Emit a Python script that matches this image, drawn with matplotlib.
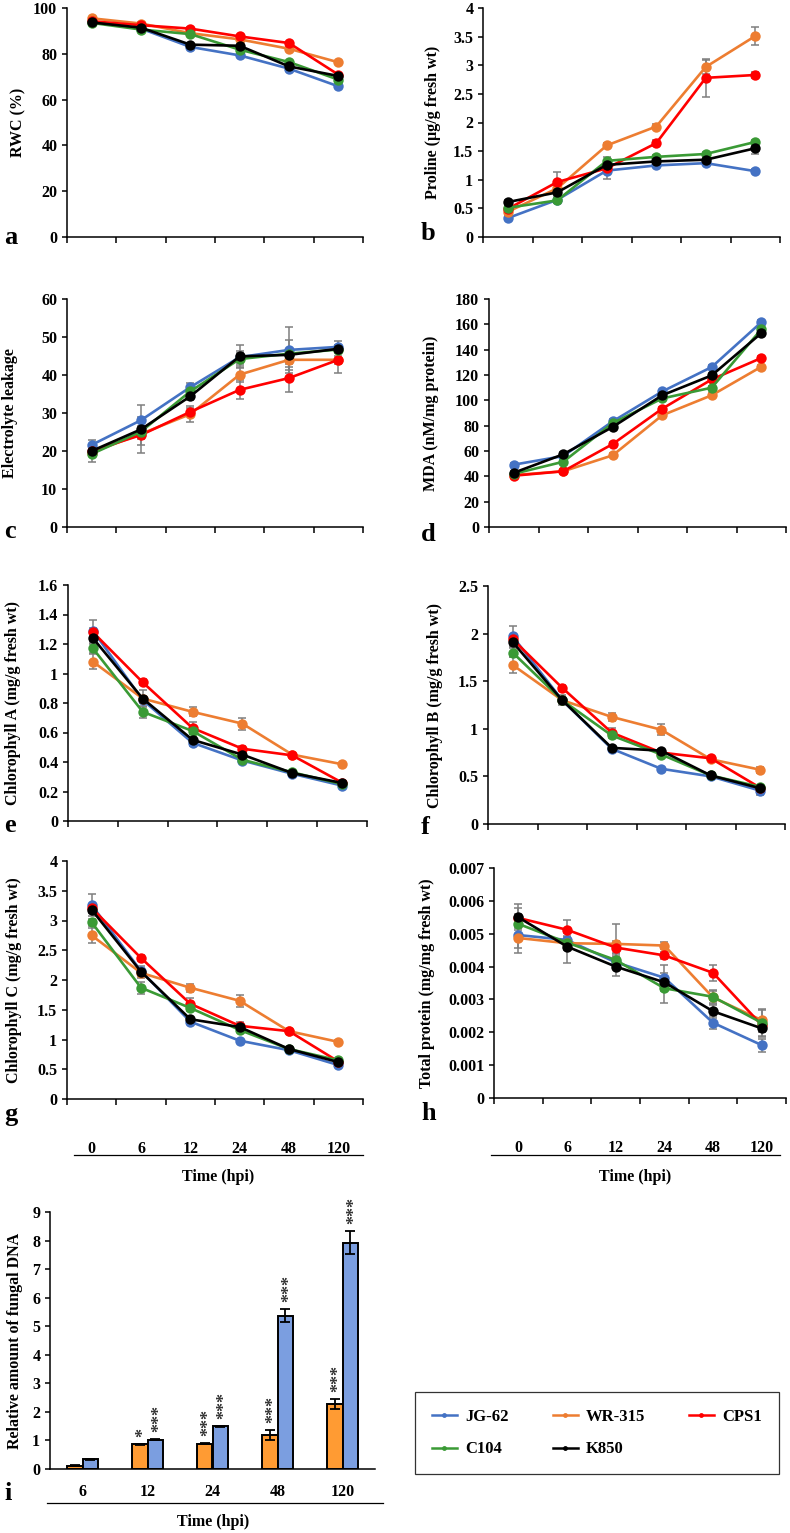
import matplotlib
matplotlib.use("Agg")
from matplotlib import pyplot as plt
from matplotlib.lines import Line2D

# figure data
genotypes = ["JG-62", "WR-315", "CPS1", "C104", "K850"]
colors = ["#4472C4", "#ED7D31", "#FF0000", "#3A9A35", "#000000"]
times = ["0", "6", "12", "24", "48", "120"]

# one row per genotype, same order as genotypes
rwc = [[94.0, 91.0, 83.0, 79.3, 73.5, 65.8],
       [95.5, 93.2, 89.0, 86.3, 82.2, 76.3],
       [94.2, 92.5, 91.0, 87.6, 84.7, 70.9],
       [93.5, 90.6, 88.6, 81.8, 76.4, 68.7],
       [93.7, 91.4, 84.0, 83.5, 74.5, 70.3]]
rwc_err = [[0.6] * 6] * 5

proline = [[0.33, 0.65, 1.16, 1.25, 1.29, 1.15],
           [0.44, 0.85, 1.60, 1.93, 2.97, 3.51],
           [0.49, 0.96, 1.20, 1.64, 2.78, 2.83],
           [0.51, 0.64, 1.33, 1.40, 1.45, 1.66],
           [0.61, 0.78, 1.26, 1.32, 1.35, 1.55]]
proline_err = [[0.03, 0.04, 0.15, 0.03, 0.03, 0.03],
               [0.05, 0.05, 0.04, 0.04, 0.13, 0.15],
               [0.05, 0.17, 0.05, 0.05, 0.33, 0.05],
               [0.03, 0.04, 0.06, 0.03, 0.03, 0.03],
               [0.03, 0.04, 0.05, 0.03, 0.03, 0.10]]

leakage = [[21.6, 28.1, 36.8, 44.7, 46.6, 47.4],
           [19.6, 24.5, 29.7, 40.1, 44.0, 44.0],
           [20.0, 24.2, 30.3, 36.1, 39.2, 44.0],
           [19.2, 25.1, 35.7, 44.2, 45.6, 46.7],
           [20.0, 25.7, 34.4, 44.9, 45.3, 46.9]]
leakage_err = [[1.2, 4.0, 1.2, 1.5, 6.0, 1.5],
               [1.0, 3.0, 2.2, 2.0, 2.0, 1.0],
               [1.0, 4.7, 1.0, 2.5, 3.7, 3.5],
               [2.0, 1.5, 1.0, 1.5, 1.0, 1.0],
               [1.0, 2.5, 1.0, 3.0, 4.0, 1.0]]

mda = [[49.2, 56.0, 83.4, 107.0, 126.3, 161.6],
       [41.0, 44.0, 56.6, 88.2, 104.0, 126.5],
       [40.5, 44.0, 65.5, 93.4, 116.5, 133.4],
       [42.0, 51.5, 82.0, 101.5, 110.0, 156.0],
       [42.8, 57.4, 79.0, 104.0, 119.7, 153.0]]
mda_err = [[1.5] * 6] * 5

chl_a = [[1.29, 0.82, 0.53, 0.41, 0.32, 0.24],
         [1.08, 0.83, 0.74, 0.66, 0.45, 0.385],
         [1.28, 0.94, 0.63, 0.49, 0.445, 0.26],
         [1.17, 0.74, 0.61, 0.415, 0.33, 0.25],
         [1.24, 0.83, 0.55, 0.45, 0.325, 0.258]]
chl_a_err = [[0.07, 0.02, 0.02, 0.01, 0.01, 0.01],
             [0.05, 0.02, 0.03, 0.04, 0.01, 0.01],
             [0.03, 0.02, 0.04, 0.02, 0.01, 0.01],
             [0.03, 0.04, 0.02, 0.01, 0.01, 0.01],
             [0.03, 0.06, 0.02, 0.01, 0.01, 0.01]]

chl_b = [[1.97, 1.30, 0.79, 0.58, 0.50, 0.35],
         [1.67, 1.30, 1.125, 0.99, 0.68, 0.57],
         [1.94, 1.43, 0.96, 0.75, 0.69, 0.38],
         [1.80, 1.30, 0.93, 0.73, 0.51, 0.39],
         [1.91, 1.30, 0.80, 0.77, 0.51, 0.375]]
chl_b_err = [[0.11, 0.03, 0.02, 0.02, 0.02, 0.05],
             [0.08, 0.03, 0.04, 0.06, 0.02, 0.03],
             [0.04, 0.03, 0.05, 0.02, 0.02, 0.02],
             [0.05, 0.03, 0.03, 0.02, 0.02, 0.02],
             [0.04, 0.05, 0.02, 0.02, 0.02, 0.02]]

chl_c = [[3.26, 2.15, 1.30, 0.98, 0.82, 0.57],
         [2.75, 2.12, 1.87, 1.65, 1.14, 0.96],
         [3.21, 2.37, 1.60, 1.23, 1.14, 0.63],
         [2.97, 1.87, 1.53, 1.16, 0.84, 0.65],
         [3.18, 2.14, 1.34, 1.21, 0.84, 0.62]]
chl_c_err = [[0.18, 0.05, 0.04, 0.03, 0.03, 0.03],
             [0.13, 0.05, 0.07, 0.10, 0.03, 0.04],
             [0.05, 0.05, 0.10, 0.06, 0.03, 0.03],
             [0.06, 0.10, 0.05, 0.03, 0.03, 0.03],
             [0.05, 0.10, 0.04, 0.03, 0.03, 0.03]]

protein = [[0.00496, 0.00481, 0.00413, 0.00366, 0.00229, 0.00161],
           [0.00487, 0.00471, 0.00469, 0.00464, 0.00306, 0.00237],
           [0.00548, 0.00512, 0.00458, 0.00434, 0.00381, 0.00222],
           [0.00530, 0.00473, 0.00420, 0.00334, 0.00308, 0.00229],
           [0.00550, 0.00461, 0.00400, 0.00352, 0.00264, 0.00212]]
protein_err = [[0.0004, 0.0002, 0.0002, 0.0004, 0.0002, 0.0002],
               [0.00045, 0.0002, 0.0006, 0.0001, 0.0002, 0.00035],
               [0.0003, 0.0003, 0.0002, 0.0001, 0.00025, 0.0002],
               [0.0003, 0.0002, 0.0002, 0.00045, 0.0002, 0.0004],
               [0.0004, 0.0005, 0.0003, 0.0002, 0.0002, 0.00025]]

fungal_times = ["6", "12", "24", "48", "120"]
fungal_orange = [0.12, 0.87, 0.89, 1.18, 2.27]
fungal_orange_err = [0.02, 0.02, 0.02, 0.18, 0.17]
fungal_orange_stars = ["", "*", "***", "***", "***"]
fungal_blue = [0.34, 1.03, 1.50, 5.37, 7.93]
fungal_blue_err = [0.02, 0.02, 0.02, 0.22, 0.40]
fungal_blue_stars = ["", "***", "***", "***", "***"]

# figure params
W, H = 790, 1533
fs = 11.5
plt.rcParams['font.family'] = ['Liberation Serif', 'DejaVu Serif']
plt.rcParams['font.weight'] = 'bold'
plt.rcParams['axes.labelweight'] = 'bold'
plt.rcParams['axes.linewidth'] = 1.1


def rect(l, r, t, b):
    return [l / W, 1 - b / H, (r - l) / W, (b - t) / H]


fig = plt.figure(figsize=(W / 100, H / 100), dpi=100)


def line_panel(box, vals, errs, ymax, ystep, ylabel, label_x, letter, letter_xy, show_x=False):
    ax = fig.add_axes(rect(*box))
    xs = range(len(times))
    for v, e in zip(vals, errs):
        ax.errorbar(xs, v, yerr=e, fmt='none', ecolor='#7F7F7F', elinewidth=1.1,
                    capsize=3, capthick=1.1, zorder=2)
    for v, c in zip(vals, colors):
        ax.plot(xs, v, color=c, lw=1.9, marker='o', ms=7.5, mew=0, zorder=3)
    ax.set_xlim(-0.5, 5.5)
    ax.set_ylim(0, ymax)
    n = int(round(ymax / ystep))
    ax.set_yticks([i * ystep for i in range(n + 1)])
    ax.set_yticklabels([f"{round(i * ystep, 6):g}" for i in range(n + 1)])
    ax.set_xticks([i - 0.5 for i in range(7)], minor=True)
    ax.set_xticks(list(xs))
    if show_x:
        ax.set_xticklabels(times)
    else:
        ax.set_xticklabels([])
    ax.tick_params(axis='x', which='major', length=0, pad=30, labelsize=fs)
    ax.tick_params(axis='x', which='minor', length=4, width=1.1, direction='out')
    ax.tick_params(axis='y', length=3.5, width=1.1, labelsize=fs)
    ax.spines['right'].set_visible(False)
    ax.spines['top'].set_visible(False)
    ax.set_ylabel(ylabel, fontsize=fs, va='center')
    ax.yaxis.set_label_coords((label_x - box[0]) / (box[1] - box[0]), 0.5)
    fig.text(letter_xy[0] / W, 1 - letter_xy[1] / H, letter, fontsize=19,
             ha='left', va='center')
    return ax


line_panel((67, 363, 8, 237), rwc, rwc_err, 100, 20, "RWC (%)", 18, "a", (4, 238))
line_panel((483, 780, 8, 237), proline, proline_err, 4, 0.5,
           "Proline (\u00b5g/g fresh wt)", 433, "b", (421, 234))
line_panel((67, 363, 299, 527), leakage, leakage_err, 60, 10,
           "Electrolyte leakage", 10, "c", (4, 532))
line_panel((489, 786, 299, 527), mda, mda_err, 180, 20,
           "MDA (nM/mg protein)", 431, "d", (421, 535))
line_panel((68, 367, 585, 821), chl_a, chl_a_err, 1.6, 0.2,
           "Chlorophyll A (mg/g fresh wt)", 13, "e", (4, 826))
line_panel((488, 785, 586, 824), chl_b, chl_b_err, 2.5, 0.5,
           "Chlorophyll B (mg/g fresh wt)", 435, "f", (421, 828))
line_panel((67, 363, 861, 1099), chl_c, chl_c_err, 4, 0.5,
           "Chlorophyll C (mg/g fresh wt)", 14, "g", (4, 1115), show_x=True)
line_panel((494, 786, 868, 1098), protein, protein_err, 0.007, 0.001,
           "Total protein (mg/mg fresh wt)", 427, "h", (421, 1113), show_x=True)

# category rules and axis titles under g, h and i
for x0, x1, y, tx, ty in [(74, 363, 1155, 218, 1177), (491, 780, 1155, 635, 1177),
                          (47, 383, 1503, 213, 1522)]:
    fig.add_artist(Line2D([x0 / W, x1 / W], [1 - y / H, 1 - y / H],
                          transform=fig.transFigure, color='black', lw=0.9))
    fig.text(tx / W, 1 - ty / H, "Time (hpi)", fontsize=fs, ha='center', va='center')

# panel i: fungal DNA bars
axi = fig.add_axes(rect(50, 375, 1212, 1469))
xi = range(len(fungal_times))
bw = 0.24
xo = [x - 0.12 for x in xi]
xb = [x + 0.12 for x in xi]
axi.bar(xo, fungal_orange, width=bw, color='#FF9B33', edgecolor='black', lw=1.4,
        yerr=fungal_orange_err, error_kw=dict(ecolor='black', elinewidth=1.3,
                                              capsize=3.5, capthick=1.3))
axi.bar(xb, fungal_blue, width=bw, color='#7B9EE0', edgecolor='black', lw=1.4,
        yerr=fungal_blue_err, error_kw=dict(ecolor='black', elinewidth=1.3,
                                            capsize=3.5, capthick=1.3))
for xs_, vals, errs, stars in [(xo, fungal_orange, fungal_orange_err, fungal_orange_stars),
                               (xb, fungal_blue, fungal_blue_err, fungal_blue_stars)]:
    for x, v, e, s in zip(xs_, vals, errs, stars):
        if s:
            axi.annotate(s, xy=(x, v + e), xytext=(3, 5), textcoords='offset points',
                         rotation=90, ha='center', va='bottom', fontsize=13,
                         color='#333333')
axi.set_xlim(-0.5, 4.5)
axi.set_ylim(0, 9)
axi.set_yticks(range(10))
axi.set_xticks(list(xi))
axi.set_xticklabels(fungal_times)
axi.tick_params(axis='x', length=0, pad=11, labelsize=fs)
axi.tick_params(axis='y', length=3.5, width=1.1, labelsize=fs)
axi.spines['right'].set_visible(False)
axi.spines['top'].set_visible(False)
axi.set_ylabel("Relative amount of fungal DNA", fontsize=fs, va='center')
axi.yaxis.set_label_coords((15 - 50) / 325, 0.5)
fig.text(4 / W, 1 - 1493 / H, "i", fontsize=19, ha='left', va='center')

# shared legend
handles = [Line2D([], [], color=c, lw=1.8, marker='o', ms=3.5, mew=0) for c in colors]
order = [0, 3, 1, 4, 2]
leg = fig.legend([handles[i] for i in order], [genotypes[i] for i in order],
                 ncol=3, loc='center', mode='expand',
                 bbox_to_anchor=(407 / W, 1 - 1474 / H, 380 / W, 82 / H),
                 fontsize=fs + 0.5, frameon=True, fancybox=False, edgecolor='black',
                 handlelength=1.5, handletextpad=0.5, labelspacing=1.0,
                 borderpad=1.0, columnspacing=2.5)
leg.get_frame().set_linewidth(0.9)

plt.rcParams['savefig.facecolor'] = "1"
fig.savefig("out.png", dpi=100)
